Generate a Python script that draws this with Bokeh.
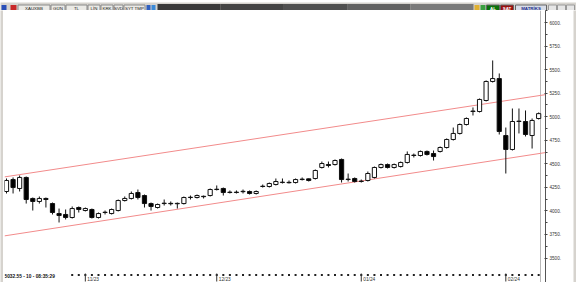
from bokeh.plotting import figure
from bokeh.layouts import column, row
from bokeh.models import Range1d, LinearAxis, FixedTicker, ColumnDataSource
from bokeh.core.properties import value
from bokeh.embed import file_html
from bokeh.resources import INLINE

# ---------------- data ----------------
opens = [4206, 4333, 4238, 4355, 4132, 4100, 4132, 4078, 3972, 3962,
         3930, 4036, 4004, 4015, 3930, 3983, 3972, 4004, 4110, 4132,
         4195, 4163, 4078, 4036, 4078, 4080, 4076, 4078, 4142, 4142,
         4155, 4163, 4227, 4238, 4195, 4199, 4204, 4206, 4185, 4259,
         4259, 4280, 4301, 4303, 4301, 4333, 4340, 4344, 4461, 4492,
         4492, 4546, 4333, 4344, 4312, 4323, 4355, 4461, 4492, 4461,
         4471, 4514, 4588, 4588, 4631, 4609, 4631, 4673, 4758, 4822,
         4917, 5055, 5055, 5172, 5374, 5405, 4800, 4652, 4949, 4949,
         4800, 4981]
highs = [4344, 4355, 4376, 4365, 4142, 4153, 4142, 4089, 4025, 4015,
         4047, 4047, 4036, 4025, 3983, 4004, 4025, 4121, 4153, 4206,
         4227, 4174, 4089, 4078, 4121, 4100, 4089, 4153, 4163, 4174,
         4163, 4238, 4270, 4248, 4217, 4217, 4227, 4217, 4217, 4280,
         4301, 4344, 4344, 4323, 4344, 4355, 4344, 4440, 4524, 4524,
         4546, 4556, 4397, 4355, 4333, 4418, 4471, 4503, 4503, 4503,
         4524, 4631, 4609, 4641, 4641, 4641, 4684, 4769, 4885, 4928,
         4992, 5098, 5193, 5385, 5597, 5459, 4885, 5087, 5087, 5066,
         4981, 5045]
lows = [4185, 4185, 4206, 4078, 4004, 4078, 4036, 3962, 3877, 3909,
        3919, 3983, 3994, 3919, 3919, 3962, 3962, 3994, 4100, 4121,
        4121, 4036, 4004, 4025, 4057, 4057, 4025, 4068, 4121, 4132,
        4132, 4153, 4217, 4163, 4185, 4185, 4185, 4174, 4174, 4248,
        4248, 4270, 4291, 4291, 4291, 4323, 4312, 4333, 4450, 4461,
        4482, 4301, 4312, 4301, 4301, 4312, 4344, 4450, 4450, 4450,
        4461, 4503, 4567, 4577, 4588, 4535, 4620, 4662, 4747, 4811,
        4907, 5013, 5045, 5162, 5363, 4811, 4397, 4641, 4822, 4790,
        4662, 4970]
closes = [4323, 4248, 4355, 4121, 4100, 4132, 4121, 3983, 3951, 3930,
          4025, 4015, 4025, 3930, 3972, 3986, 4015, 4110, 4132, 4185,
          4142, 4078, 4047, 4068, 4082, 4076, 4080, 4142, 4145, 4163,
          4151, 4227, 4230, 4195, 4199, 4195, 4208, 4185, 4206, 4262,
          4291, 4312, 4305, 4299, 4333, 4337, 4323, 4429, 4503, 4482,
          4535, 4333, 4337, 4312, 4316, 4397, 4461, 4492, 4461, 4492,
          4514, 4599, 4592, 4631, 4599, 4577, 4673, 4758, 4822, 4917,
          4981, 5060, 5183, 5374, 5405, 4843, 4652, 4949, 4953, 4811,
          4960, 5032.55]

# trend channel: value at first and at last candle
channel_upper = [4364, 5223]
channel_lower = [3738, 4608]

price_ticks = [3500, 3750, 4000, 4250, 4500, 4750, 5000, 5250, 5500, 5750, 6000]
price_minor = [3625, 3875, 4125, 4375, 4625, 4875, 5125, 5375, 5625, 5875, 6125]
month_labels = ["11/23", "12/23", "01/24", "02/24"]
month_start = [12, 32, 54, 76]
status_text = "5032.55 - 10 - 08:35:29"

# ---------------- geometry (page pixels) ----------------
W, H = 576, 288
TOP_H, BOT_H, SIDE = 10, 6, 3
MAIN_W, MAIN_H = W - 2 * SIDE, H - TOP_H - BOT_H       # 570 x 272, page x 3..573, y 10..282
FL, FR = 4, 545                                         # frame left/right (page px)
FT, FB = TOP_H, TOP_H + MAIN_H                          # frame top/bottom (page px)
STEP = 6.57                                             # px per candle
X0 = 6                                                  # page px of the first candle
PPP = 250 / 23.55                                       # price units per pixel
Y6000 = 22                                              # page px of the 6000 level

def px_x(px):
    return (px - X0) / STEP

def px_y(py):
    return 6000 - (py - Y6000) * PPP

FONT = "Liberation Sans"
GREY = "#d6d3ce"

xr = Range1d(px_x(FL), px_x(FR))
yr = Range1d(px_y(FB), px_y(FT))

# ---------------- main chart ----------------
p = figure(width=MAIN_W, height=MAIN_H, x_range=xr, y_range=yr,
           toolbar_location=None, output_backend="svg",
           x_axis_location=None, y_axis_location=None,
           min_border_left=FL - SIDE, min_border_right=(SIDE + MAIN_W) - FR,
           min_border_top=0, min_border_bottom=0)
p.outline_line_color = None
p.background_fill_color = "white"
p.border_fill_color = "white"
p.grid.visible = False

n = len(opens)
idx = list(range(n))
tops = [max(o, c) for o, c in zip(opens, closes)]
bots = [min(o, c) for o, c in zip(opens, closes)]
fills = ["white" if c >= o else "black" for o, c in zip(opens, closes)]
src = ColumnDataSource(dict(x=idx, h=highs, l=lows, top=tops, bottom=bots, fill=fills))

def extend(vals):
    slope = (vals[1] - vals[0]) / (n - 1)
    return [vals[0] + slope * xr.start, vals[0] + slope * xr.end]

# separator line just before the price scale
p.segment(x0=[px_x(540)], y0=[yr.start], x1=[px_x(540)], y1=[yr.end],
          line_color="#b8b8b8", line_width=1)

p.line([xr.start, xr.end], extend(channel_upper), line_color="#f28b8b", line_width=1)
p.line([xr.start, xr.end], extend(channel_lower), line_color="#f28b8b", line_width=1)

p.segment(x0="x", y0="l", x1="x", y1="h", source=src, line_color="#111", line_width=1)
p.vbar(x="x", width=0.64, top="top", bottom="bottom", source=src,
       fill_color="fill", line_color="#111", line_width=1)

# date strip at the bottom of the chart
dots = [i for i in idx if X0 + STEP * i > 70]
p.scatter(x=dots, y=[px_y(274.5)] * len(dots), marker="square", size=2,
          fill_color="#222", line_color=None)
p.segment(x0=month_start, y0=[px_y(273)] * 4, x1=month_start, y1=[px_y(281)] * 4,
          line_color="#333", line_width=1)
p.text(x=month_start, y=[px_y(278.5)] * 4, text=month_labels, x_offset=2,
       text_font=value(FONT), text_font_size="4.8px", text_color="#333",
       text_align="left", text_baseline="middle")
p.text(x=[xr.start], y=[px_y(275.5)], text=[status_text],
       text_font=value(FONT), text_font_size="4.8px", text_color="#111",
       text_font_style="bold", text_align="left", text_baseline="middle")

# price scale (right)
yax = LinearAxis(ticker=FixedTicker(ticks=price_ticks, minor_ticks=price_minor),
                 major_label_overrides={t: f"{t}." for t in price_ticks})
yax.axis_line_color = "#555"
yax.major_tick_in = 1
yax.major_tick_out = 2
yax.minor_tick_in = 0
yax.minor_tick_out = 2
yax.major_tick_line_color = "#444"
yax.minor_tick_line_color = "#444"
yax.major_label_standoff = 2
yax.major_label_text_font = FONT
yax.major_label_text_font_size = "4.6px"
yax.major_label_text_color = "#333"
p.add_layout(yax, "right")

# ---------------- chrome figures ----------------
def chrome(w, h):
    f = figure(width=w, height=h, x_range=Range1d(0, w), y_range=Range1d(h, 0),
               toolbar_location=None, output_backend="svg",
               x_axis_location=None, y_axis_location=None,
               min_border=0, min_border_left=0, min_border_right=0,
               min_border_top=0, min_border_bottom=0)
    f.outline_line_color = None
    f.background_fill_color = GREY
    f.border_fill_color = GREY
    f.grid.visible = False
    return f

# top toolbar
top = chrome(W, TOP_H)
grad = ["#3a3a3a", "#444444", "#505050", "#626262", "#7a7a7a"]
seg = (473 - 157) / len(grad)
top.quad(left=[157 + i * seg for i in range(len(grad))],
         right=[157 + (i + 1) * seg for i in range(len(grad))],
         top=[1.5] * len(grad), bottom=[8.5] * len(grad),
         fill_color=grad, line_color=None)

left_buttons = [("XAUXBB", 17, 50), ("GÜN", 50, 65), ("TL", 65, 87), ("LİN", 87, 100),
                ("KRK", 100, 113), ("SVD", 113, 123), ("SYT TMP", 123, 145)]
top.quad(left=[a + 0.5 for _, a, b in left_buttons], right=[b - 0.5 for _, a, b in left_buttons],
         top=[2.5] * len(left_buttons), bottom=[8.5] * len(left_buttons),
         fill_color="#ebeae6", line_color="#8a8a8a", line_width=1)
top.text(x=[(a + b) / 2 for _, a, b in left_buttons], y=[5.7] * len(left_buttons),
         text=[s for s, _, _ in left_buttons], text_font=value(FONT),
         text_font_size="4.4px", text_color="#222", text_align="center",
         text_baseline="middle")

icons = [(1, 6, "#2a4fb8"), (10, 16, "#c82828"), (146, 150, "#3060c0"),
         (151, 155, "#3a8ad8"), (474, 479, "#e0b030"), (480, 485, "#3aa040")]
top.quad(left=[a for a, _, _ in icons], right=[b for _, b, _ in icons],
         top=[2.5] * len(icons), bottom=[8] * len(icons),
         fill_color=[c for _, _, c in icons], line_color=None)

right_buttons = [("AL", 486, 499, "#0b730b", "white"), ("SAT", 500, 513, "#9a1010", "white"),
                 ("MATRİKS", 515, 546, "#d8dde8", "#1c2c8c")]
top.quad(left=[b[1] for b in right_buttons], right=[b[2] for b in right_buttons],
         top=[2.5] * 3, bottom=[8.5] * 3,
         fill_color=[b[3] for b in right_buttons], line_color="#666", line_width=1)
top.text(x=[(b[1] + b[2]) / 2 for b in right_buttons], y=[5.7] * 3,
         text=[b[0] for b in right_buttons], text_font=value(FONT),
         text_font_size="4.4px", text_color=[b[4] for b in right_buttons],
         text_font_style="bold", text_align="center", text_baseline="middle")
top.quad(left=[548, 557, 566], right=[556, 565, 574], top=[2.5] * 3, bottom=[8.5] * 3,
         fill_color="#e6e6e6", line_color="#9a9a9a", line_width=1)

# side strips
lside = chrome(SIDE, MAIN_H)
rside = chrome(SIDE, MAIN_H)

# bottom strip
bot = chrome(W, BOT_H)
bot.quad(left=[4, 533, 538, 556, 564, 569], right=[9, 537, 542, 562, 567, 572],
         top=[1.5, 2, 2, 0.5, 1.5, 1.5], bottom=[4.5, 4.5, 4.5, 5.5, 4.5, 4.5],
         fill_color=["#e8e8e8", "#c0c0c0", "#c0c0c0", "#2a5cc8", "#2a5cc8", "#2a5cc8"],
         line_color=None)

layout = column(top, row(lside, p, rside, spacing=0), bot, spacing=0)

open("out.html", "w").write(file_html(layout, INLINE))
